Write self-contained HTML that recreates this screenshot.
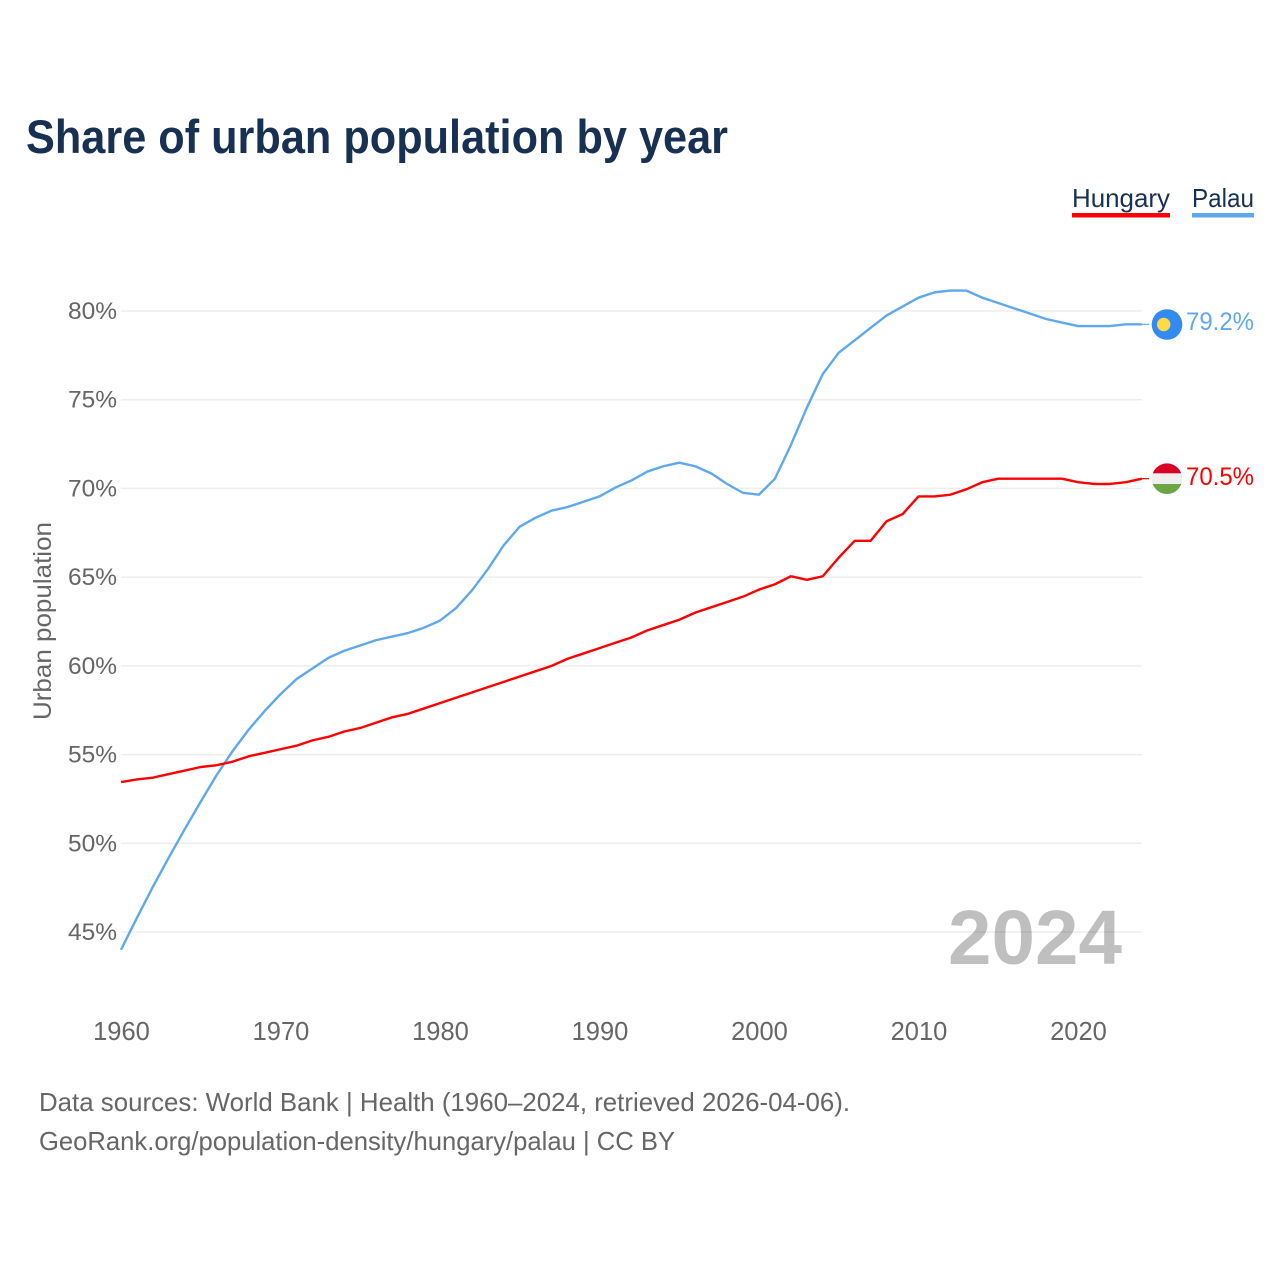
<!DOCTYPE html>
<html lang="en">
<head>
<meta charset="utf-8">
<title>Share of urban population by year</title>
<style>
html,body{margin:0;padding:0;background:#fff;}
svg{display:block;font-family:"Liberation Sans",sans-serif;}
</style>
</head>
<body>
<svg id="chart" xmlns="http://www.w3.org/2000/svg" width="1280" height="1280" viewBox="0 0 1280 1280">
  <rect x="0" y="0" width="1280" height="1280" fill="#ffffff"/>
  <text x="26" y="153" font-size="47" font-weight="700" fill="#183153" textLength="702" lengthAdjust="spacingAndGlyphs">Share of urban population by year</text>
  <g>
    <text x="1072" y="207" font-size="26" fill="#183153" textLength="98" lengthAdjust="spacingAndGlyphs">Hungary</text>
    <rect x="1072" y="213" width="98" height="4.5" fill="#ff0000"/>
  </g>
  <g>
    <text x="1192" y="207" font-size="26" fill="#183153" textLength="62" lengthAdjust="spacingAndGlyphs">Palau</text>
    <rect x="1192" y="213" width="62" height="4.5" fill="#5fa8ee"/>
  </g>
  <g id="grid"></g>
  <g id="yticks"></g>
  <g id="xticks"></g>
  <text transform="translate(51,621) rotate(-90)" text-anchor="middle" font-size="25" fill="#666666" textLength="198" lengthAdjust="spacingAndGlyphs">Urban population</text>
  <text x="948" y="964" font-size="77" font-weight="700" fill="#000000" fill-opacity="0.25" textLength="174" lengthAdjust="spacingAndGlyphs">2024</text>
  <g id="series"></g>
  <defs>
    <clipPath id="flag-clip-hu"><circle cx="1167" cy="478.7" r="15.3"/></clipPath>
  </defs>
  <g>
    <circle cx="1167" cy="324.5" r="15.3" fill="#338af3"/>
    <circle cx="1163.7" cy="324.5" r="6.7" fill="#ffda44"/>
  </g>
  <g clip-path="url(#flag-clip-hu)">
    <rect x="1150" y="463" width="34" height="10.4" fill="#d80027"/>
    <rect x="1150" y="473.4" width="34" height="10.6" fill="#eeeeee"/>
    <rect x="1150" y="484" width="34" height="10" fill="#6da544"/>
  </g>
  <text x="1186" y="330" font-size="25" fill="#5fa8ee" textLength="68" lengthAdjust="spacingAndGlyphs">79.2%</text>
  <text x="1186" y="485" font-size="25" fill="#ff0000" textLength="68" lengthAdjust="spacingAndGlyphs">70.5%</text>
  <text x="39" y="1111" font-size="26" fill="#666666" textLength="811" lengthAdjust="spacingAndGlyphs">Data sources: World Bank | Health (1960–2024, retrieved 2026-04-06).</text>
  <text x="39" y="1150" font-size="26" fill="#666666" textLength="636" lengthAdjust="spacingAndGlyphs">GeoRank.org/population-density/hungary/palau | CC BY</text>
</svg>
<script>
const years = [1960,1961,1962,1963,1964,1965,1966,1967,1968,1969,1970,1971,1972,1973,1974,1975,1976,1977,1978,1979,1980,1981,1982,1983,1984,1985,1986,1987,1988,1989,1990,1991,1992,1993,1994,1995,1996,1997,1998,1999,2000,2001,2002,2003,2004,2005,2006,2007,2008,2009,2010,2011,2012,2013,2014,2015,2016,2017,2018,2019,2020,2021,2022,2023,2024];
const hungary = [53.45,53.6,53.7,53.9,54.1,54.3,54.4,54.6,54.9,55.1,55.3,55.5,55.8,56.0,56.3,56.5,56.8,57.1,57.3,57.6,57.9,58.2,58.5,58.8,59.1,59.4,59.7,60.0,60.4,60.7,61.0,61.3,61.6,62.0,62.3,62.6,63.0,63.3,63.6,63.9,64.3,64.6,65.05,64.85,65.05,66.1,67.05,67.05,68.15,68.55,69.55,69.55,69.65,69.95,70.35,70.55,70.55,70.55,70.55,70.55,70.35,70.25,70.25,70.35,70.55];
const palau = [44.0,45.8,47.55,49.2,50.8,52.35,53.85,55.2,56.4,57.45,58.4,59.25,59.85,60.45,60.85,61.15,61.45,61.65,61.85,62.15,62.55,63.25,64.25,65.45,66.8,67.85,68.35,68.75,68.95,69.25,69.55,70.05,70.45,70.95,71.25,71.45,71.25,70.85,70.25,69.75,69.65,70.55,72.45,74.55,76.45,77.65,78.35,79.05,79.75,80.25,80.75,81.05,81.15,81.15,80.75,80.45,80.15,79.85,79.55,79.35,79.15,79.15,79.15,79.25,79.25];
const yTickValues = [45,50,55,60,65,70,75,80];
const yTickLabels = ["45%","50%","55%","60%","65%","70%","75%","80%"];
const xTickValues = [1960,1970,1980,1990,2000,2010,2020];
const xTickLabels = ["1960","1970","1980","1990","2000","2010","2020"];

const NS = "http://www.w3.org/2000/svg";
function xScale(year){ return 121 + (year - 1960) * 15.95; }
function yScale(value){ return 311 + (80 - value) * 17.743; }
function make(tag, parent){
  const el = document.createElementNS(NS, tag);
  parent.appendChild(el);
  return el;
}

const grid = document.getElementById("grid");
const yticks = document.getElementById("yticks");
const xticks = document.getElementById("xticks");
const series = document.getElementById("series");

yTickValues.forEach(function(v, i){
  const line = make("line", grid);
  
  
  line.setAttribute("x1", 121);
  line.setAttribute("x2", 1142);
  line.setAttribute("y1", yScale(v));
  line.setAttribute("y2", yScale(v));
  line.setAttribute("stroke", "#eeeeee");
  line.setAttribute("stroke-width", "1.5");
  const t = make("text", yticks);
  
  
  t.setAttribute("x", 117);
  t.setAttribute("y", yScale(v) + 8);
  t.setAttribute("text-anchor", "end");
  t.setAttribute("font-size", "24.5");
  t.setAttribute("fill", "#666666");
  t.textContent = yTickLabels[i];
});

xTickValues.forEach(function(v, i){
  const t = make("text", xticks);
  
  
  t.setAttribute("x", xScale(v) + 0.5);
  t.setAttribute("y", 1040);
  t.setAttribute("text-anchor", "middle");
  t.setAttribute("font-size", "25.5");
  t.setAttribute("fill", "#666666");
  t.textContent = xTickLabels[i];
});

function drawSeries(values, color, name){
  const pts = values.map(function(v, i){ return xScale(years[i]) + "," + yScale(v); }).join(" ");
  const line = make("polyline", series);
  
  
  line.setAttribute("points", pts);
  line.setAttribute("fill", "none");
  line.setAttribute("stroke", color);
  line.setAttribute("stroke-width", "2.4");
  line.setAttribute("stroke-linejoin", "round");
  const last = values[values.length - 1];
  const leader = make("line", series);
  
  
  leader.setAttribute("x1", xScale(years[years.length - 1]));
  leader.setAttribute("x2", 1149);
  leader.setAttribute("y1", yScale(last));
  leader.setAttribute("y2", yScale(last));
  leader.setAttribute("stroke", color);
  leader.setAttribute("stroke-width", "1.2");
}
drawSeries(palau, "#5fa8ee", "palau");
drawSeries(hungary, "#ff0000", "hungary");
</script>
</body>
</html>
